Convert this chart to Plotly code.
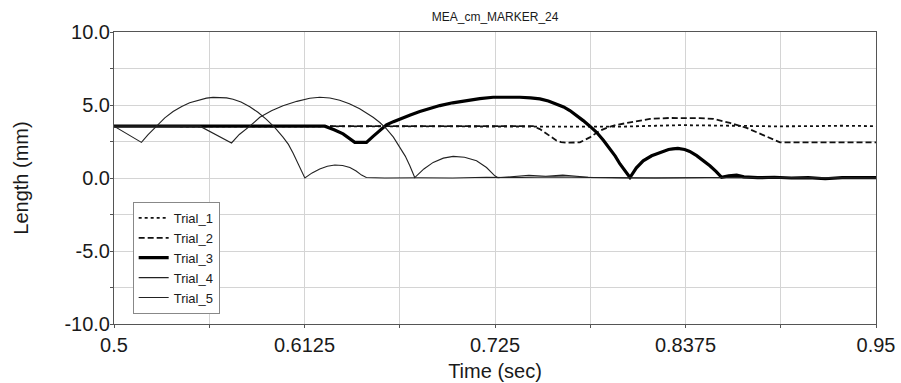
import plotly.graph_objects as go

# Marker length traces (mm) against time (sec) for five trials
t_trial1 = [0.5, 0.55, 0.6, 0.65, 0.70, 0.75, 0.78, 0.80, 0.82, 0.835, 0.85, 0.87, 0.89, 0.91, 0.93, 0.95]
y_trial1 = [3.55, 3.55, 3.55, 3.55, 3.55, 3.56, 3.55, 3.52, 3.58, 3.62, 3.60, 3.55, 3.54, 3.55, 3.58, 3.55]

t_trial2 = [0.5, 0.7475, 0.7515, 0.7555, 0.7614, 0.7640, 0.7673, 0.7751, 0.7780, 0.7810, 0.7869,
            0.7920, 0.7968, 0.8066, 0.8165, 0.8280, 0.8382, 0.8460, 0.8539, 0.8590, 0.8637,
            0.8736, 0.8834, 0.8900, 0.8933, 0.95]
y_trial2 = [3.55, 3.55, 3.35, 3.02, 2.56, 2.46, 2.42, 2.44, 2.58, 2.78, 3.24,
            3.48, 3.64, 3.86, 4.05, 4.11, 4.12, 4.10, 4.05, 3.92, 3.77,
            3.43, 2.95, 2.58, 2.44, 2.44]

t_trial3 = [0.5, 0.6245, 0.6300, 0.6353, 0.6422, 0.6491, 0.6530, 0.6570, 0.6609, 0.6650, 0.6688,
            0.6750, 0.6806, 0.6865, 0.6924, 0.7000, 0.7082, 0.7160, 0.7239, 0.7320, 0.7397,
            0.7460, 0.7515, 0.7565, 0.7614, 0.7655, 0.7692, 0.7730, 0.7771, 0.7810, 0.7850,
            0.7890, 0.7929, 0.7960, 0.7988, 0.8020, 0.8047, 0.8085, 0.8125, 0.8175, 0.8224,
            0.8275, 0.8300, 0.8330, 0.8370, 0.8400, 0.8441, 0.8480, 0.8519, 0.8555, 0.8588,
            0.8630, 0.8677, 0.8720, 0.88, 0.89, 0.90, 0.91, 0.92, 0.93, 0.94, 0.95]
y_trial3 = [3.55, 3.55, 3.30, 3.02, 2.44, 2.44, 2.85, 3.24, 3.64, 3.86, 4.05,
            4.32, 4.55, 4.77, 4.96, 5.15, 5.31, 5.44, 5.53, 5.55, 5.53,
            5.49, 5.42, 5.27, 5.08, 4.87, 4.62, 4.30, 3.93, 3.55, 3.13,
            2.58, 1.99, 1.50, 0.96, 0.48, 0.03, 0.70, 1.18, 1.52, 1.75,
            1.95, 2.00, 2.03, 1.95, 1.82, 1.53, 1.20, 0.84, 0.45, 0.05,
            0.15, 0.20, 0.08, 0.02, 0.05, 0.0, 0.03, -0.05, 0.02, 0.0, 0.02]

t_trial4 = [0.5, 0.5162, 0.5200, 0.5250, 0.5300, 0.5349, 0.5400, 0.5447, 0.5500, 0.5546, 0.5585,
            0.5624, 0.5665, 0.5703, 0.5750, 0.5802, 0.5850, 0.5900, 0.5950, 0.5998, 0.6030,
            0.6058, 0.6090, 0.6127, 0.6170, 0.6215, 0.6260, 0.6304, 0.6350, 0.6393, 0.6430,
            0.6462, 0.6490, 0.66, 0.68, 0.70, 0.72, 0.74, 0.76, 0.78, 0.80, 0.85, 0.90, 0.95]
y_trial4 = [3.55, 2.44, 2.95, 3.55, 4.12, 4.55, 4.90, 5.15, 5.35, 5.47, 5.52,
            5.53, 5.49, 5.40, 5.20, 4.88, 4.50, 4.02, 3.45, 2.80, 2.30,
            1.70, 0.90, 0.0, 0.35, 0.61, 0.80, 0.89, 0.86, 0.72, 0.48,
            0.20, 0.03, 0.0, 0.02, 0.0, 0.05, 0.03, 0.08, 0.02, 0.0, 0.02, 0.0, 0.0]

t_trial5 = [0.5, 0.5507, 0.5694, 0.5740, 0.5802, 0.5861, 0.5930, 0.5998, 0.6080, 0.6156, 0.6215,
            0.6275, 0.6333, 0.6390, 0.6451, 0.6490, 0.6530, 0.6570, 0.6609, 0.6650, 0.6688,
            0.6720, 0.6747, 0.6776, 0.6830, 0.6885, 0.6945, 0.7003, 0.7070, 0.7141, 0.7200,
            0.7249, 0.7267, 0.735, 0.745, 0.755, 0.765, 0.78, 0.80, 0.82, 0.85, 0.90, 0.95]
y_trial5 = [3.55, 3.55, 2.40, 2.98, 3.55, 4.16, 4.60, 4.95, 5.25, 5.46, 5.53,
            5.48, 5.33, 5.08, 4.74, 4.45, 4.16, 3.80, 3.36, 2.80, 2.10,
            1.50, 0.84, 0.03, 0.62, 1.07, 1.36, 1.48, 1.42, 1.18, 0.72,
            0.15, 0.02, 0.10, 0.18, 0.12, 0.20, 0.05, 0.02, 0.0, 0.03, 0.0, 0.0]

trial_names = ["Trial_1", "Trial_2", "Trial_3", "Trial_4", "Trial_5"]

x_grid = [0.5, 0.55625, 0.6125, 0.66875, 0.725, 0.78125, 0.8375, 0.89375, 0.95]
x_labels = ["0.5", "", "0.6125", "", "0.725", "", "0.8375", "", "0.95"]
y_grid = [-10, -7.5, -5, -2.5, 0, 2.5, 5, 7.5, 10]
y_labels = ["-10.0", "", "-5.0", "", "0.0", "", "5.0", "", "10.0"]

series = [
    (t_trial1, y_trial1, dict(color="#111111", width=1.8, dash="dot")),
    (t_trial2, y_trial2, dict(color="#111111", width=1.8, dash="6px,3px")),
    (t_trial3, y_trial3, dict(color="#000000", width=3.2)),
    (t_trial4, y_trial4, dict(color="#222222", width=1.1)),
    (t_trial5, y_trial5, dict(color="#222222", width=1.1)),
]

FONT = "Arial, 'Liberation Sans', sans-serif"

fig = go.Figure()
for name, (tx, ty, line) in zip(trial_names, series):
    fig.add_trace(go.Scatter(x=tx, y=ty, mode="lines", name=name, line=line))

fig.update_layout(
    width=901, height=383,
    margin=dict(l=114, r=25, t=32, b=59, autoexpand=False),
    paper_bgcolor="white", plot_bgcolor="white",
    font=dict(family=FONT, color="#1a1a1a"),
    title=dict(text="MEA_cm_MARKER_24", x=0.5495, xanchor="center", y=0.955, yanchor="middle",
               font=dict(size=12, family=FONT, color="#1a1a1a")),
    showlegend=True,
    legend=dict(x=0.0245, y=0.418, xanchor="left", yanchor="top",
                bgcolor="white", bordercolor="#888888", borderwidth=1,
                font=dict(size=13, family=FONT, color="#1a1a1a"),
                itemwidth=30, tracegroupgap=0),
    xaxis=dict(range=[0.5, 0.95], tickmode="array", tickvals=x_grid, ticktext=x_labels,
               automargin=False,
               showgrid=True, gridcolor="#d4d4d4", gridwidth=1, zeroline=False,
               showline=True, linecolor="#555555", linewidth=1, mirror=True,
               ticks="outside", ticklen=3, tickcolor="#555555",
               tickfont=dict(size=20, family=FONT, color="#1a1a1a"),
               title=dict(text="Time (sec)", font=dict(size=20, family=FONT, color="#1a1a1a"), standoff=8)),
    yaxis=dict(range=[-10, 10], tickmode="array", tickvals=y_grid, ticktext=y_labels,
               automargin=False, ticklabelstandoff=-4,
               showgrid=True, gridcolor="#d4d4d4", gridwidth=1, zeroline=False,
               showline=True, linecolor="#555555", linewidth=1, mirror=True,
               ticks="outside", ticklen=3, tickcolor="#555555",
               tickfont=dict(size=20, family=FONT, color="#1a1a1a"),
               title=dict(text="Length (mm)", font=dict(size=20, family=FONT, color="#1a1a1a"), standoff=30)),
)

fig.write_html("out.html")
